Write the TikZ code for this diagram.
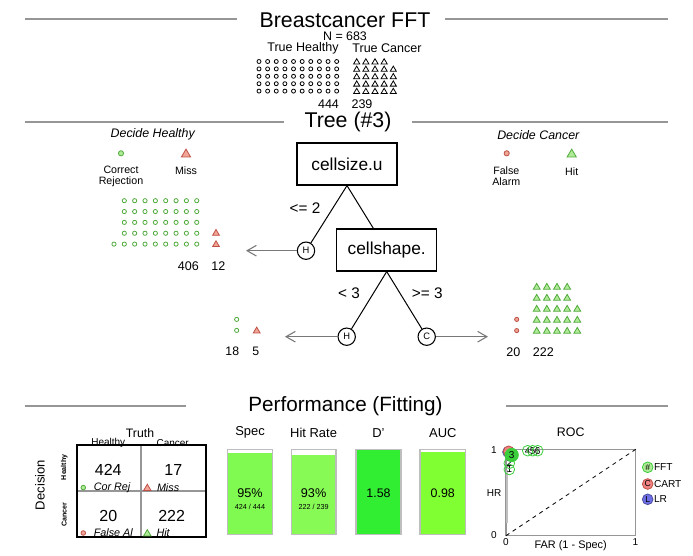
\documentclass[tikz,border=0pt]{standalone}
\usepackage{fontspec}
\setmainfont{Liberation Sans}
\usetikzlibrary{arrows.meta,shapes.geometric}
\newcommand\fsz[1]{\fontsize{#1}{#1}\selectfont}
\definecolor{rulegray}{RGB}{150,150,150}
\definecolor{gline}{RGB}{80,170,60}
\definecolor{gfill}{RGB}{175,235,150}
\definecolor{rline}{RGB}{190,80,70}
\definecolor{rfill}{RGB}{240,165,150}
\definecolor{arrgray}{RGB}{120,120,120}
\definecolor{barline}{RGB}{190,190,190}
\definecolor{specc}{RGB}{128,250,80}
\definecolor{hrc}{RGB}{135,250,85}
\definecolor{dpc}{RGB}{50,238,50}
\definecolor{aucc}{RGB}{128,255,50}
\definecolor{lrblue}{RGB}{110,110,230}
\definecolor{cartred}{RGB}{240,130,130}
\definecolor{fftgreen}{RGB}{60,205,60}
\tikzset{tripic/.pic={\path[pic actions] (-3.4,2.7) -- (3.4,2.7) -- (0,-3.1) -- cycle;}}
\begin{document}
\begin{tikzpicture}[x=0.75pt,y=-0.75pt,line width=0.75pt,
  txt/.style={inner sep=0pt},
  hline/.style={rulegray,line width=0.9pt},
  icon/.style={line width=0.6pt},
  gcirc/.style={icon,draw=gline,fill=white},
  gcircf/.style={icon,draw=gline,fill=gfill},
  rcirc/.style={icon,draw=rline,fill=rfill},
  gtri/.style={icon,draw=gline,fill=gfill},
  rtri/.style={icon,draw=rline,fill=rfill},
  treebox/.style={draw,line width=0.9pt,minimum width=75pt,minimum height=31.5pt,inner sep=0pt,font=\fsz{13}},
  leaf/.style={circle,draw,line width=0.8pt,minimum size=13pt,inner sep=0pt,font=\fsz{7}},
  leafarr/.style={arrgray,line width=0.8pt,-{Straight Barb[length=7pt,width=8pt]}},
  barbox/.style={barline,line width=0.9pt},
  rocpt/.style={circle,draw=fftgreen,line width=0.6pt,minimum size=8pt,inner sep=0pt,font=\fsz{7.5}},
]
\useasboundingbox (0,0) rectangle (693,556);
\fill[white] (0,0) rectangle (693,556);

% ---------- header ----------
\draw[hline] (25,19) -- (237,19);
\draw[hline] (445,19) -- (668,19);
\node[txt,font=\fsz{16}] (title) at (345,20) {Breastcancer FFT};
\node[txt,font=\fsz{9.3}] (nlab) at (345,36) {N = 683};
\node[txt,font=\fsz{9.4}] (truehealthy) at (303,48) {True Healthy};
\node[txt,font=\fsz{9.4}] (truecancer) at (387,48) {True Cancer};
\foreach \i in {0,...,9}
  \foreach \j in {0,...,4}
    \draw[icon,black] (259+8.63*\i,61.5+7.4*\j) circle[radius=2];
\foreach \k in {0,...,3}
  \pic[icon,draw=black,fill=white,scale=0.9] at (356.7+9.15*\k,61.5) {tripic};
\foreach \j in {1,...,4}
  \foreach \k in {0,...,4}
    \pic[icon,draw=black,fill=white,scale=0.9] at (356.7+9.15*\k,61.5+7.4*\j) {tripic};
\node[txt,font=\fsz{9.4}] (n444) at (328.5,104.5) {444};
\node[txt,font=\fsz{9.4}] (n239) at (362,104.5) {239};

% ---------- tree ----------
\draw[hline] (25,122) -- (284,122);
\draw[hline] (412,122) -- (668,122);
\node[txt,font=\fsz{16}] (treetitle) at (348,121.5) {Tree (\#3)};

\node[txt,font=\itshape\fsz{9.3}] (dh) at (152.7,134) {Decide Healthy};
\draw[gcircf] (121,153.3) circle[radius=2.6];
\pic[rtri,scale=1.35] at (186,153.3) {tripic};
\node[txt,font=\fontsize{8}{8.4}\selectfont,align=center] (corrrej) at (121,176.5) {Correct\\Rejection};
\node[txt,font=\fsz{8}] (misslab) at (186,171) {Miss};

\node[txt,font=\itshape\fsz{9.3}] (dc) at (538.3,135) {Decide Cancer};
\draw[rcirc] (506.7,153.3) circle[radius=2.6];
\pic[gtri,scale=1.35] at (571.7,153.3) {tripic};
\node[txt,font=\fontsize{8}{8.4}\selectfont,align=center] (falarm) at (506.3,176.5) {False\\Alarm};
\node[txt,font=\fsz{8}] (hitlab) at (571.7,171.5) {Hit};

% healthy leaf 1 icons
\foreach \i in {0,...,7}
  \foreach \j in {0,...,4}
    \draw[gcirc] (124.3+10.35*\i,200.7+10.85*\j) circle[radius=2.1];
\draw[gcirc] (114,244.1) circle[radius=2.1];
\pic[rtri] at (216,232.6) {tripic};
\pic[rtri] at (216,243.9) {tripic};
\node[txt,font=\fsz{9.4}] (n406) at (188.3,265.7) {406};
\node[txt,font=\fsz{9.4}] (n12) at (218.3,265.7) {12};

% tree nodes
\node[treebox] (n1) at (347,164) {cellsize.u};
\node[treebox] (n2) at (386.7,250) {cellshape.};
\node[leaf] (h1) at (306,250.7) {H};
\node[leaf] (h2) at (346.7,336.7) {H};
\node[leaf] (c2) at (426.7,336.7) {C};
\coordinate (a1) at (246,250.7);
\coordinate (a2) at (285,336.7);
\coordinate (a3) at (488,336.7);
\draw (n1.south) -- (h1);
\draw (n1.south) -- (n2);
\draw (n2.south) -- (h2);
\draw (n2.south) -- (c2);
\draw[leafarr] (h1) -- (a1);
\draw[leafarr] (h2) -- (a2);
\draw[leafarr] (c2) -- (a3);
\node[txt,font=\fsz{11.5}] (lab1) at (305,208.3) {<= 2};
\node[txt,font=\fsz{11.5}] (lab2) at (349,293.3) {< 3};
\node[txt,font=\fsz{11.5}] (lab3) at (427.3,293.3) {>= 3};

% leaf 2 icons (healthy)
\draw[gcirc] (236.7,319.4) circle[radius=2.1];
\draw[gcirc] (236.7,330.4) circle[radius=2.1];
\pic[rtri] at (256.7,330.2) {tripic};
\node[txt,font=\fsz{9.2}] (n18) at (232.3,351.7) {18};
\node[txt,font=\fsz{9.2}] (n5) at (255.7,351.7) {5};

% leaf 3 icons (cancer)
\draw[rcirc] (516.7,319.4) circle[radius=2.1];
\draw[rcirc] (516.7,330.6) circle[radius=2.1];
\foreach \j in {0,1}
  \foreach \k in {0,...,3}
    \pic[gtri] at (536.7+10.15*\k,286.5+11*\j) {tripic};
\foreach \j in {2,3,4}
  \foreach \k in {0,...,4}
    \pic[gtri] at (536.7+10.15*\k,286.5+11*\j) {tripic};
\node[txt,font=\fsz{9.4}] (n20) at (513.3,351.7) {20};
\node[txt,font=\fsz{9.4}] (n222) at (543.3,351.7) {222};

% ---------- performance ----------
\draw[hline] (25,406) -- (186,406);
\draw[hline] (506,406) -- (668,406);
\node[txt,font=\fsz{15.5}] (perf) at (345.5,406) {Performance (Fitting)};

% confusion matrix
\node[txt,font=\fsz{9.2}] (truth) at (140,432.7) {Truth};
\node[txt,font=\fsz{7.5}] (colh) at (108.3,443) {Healthy};
\node[txt,font=\fsz{7.5}] (colc) at (172.7,443) {Cancer};
\node[txt,font=\fsz{9.8},rotate=90] (decision) at (40,485) {Decision};
\node[txt,font=\bfseries\fsz{5.3},rotate=90] (rowh) at (64.3,467.3) {Healthy};
\node[txt,font=\bfseries\fsz{5.3},rotate=90] (rowc) at (64.3,515) {Cancer};
\draw[rulegray,line width=0.9pt] (141,445) -- (141,536.7);
\draw[rulegray,line width=0.9pt] (76.7,491) -- (205.7,491);
\draw[line width=1.2pt] (76.7,445) rectangle (205.7,536.7);
\node[txt,font=\fsz{12}] (c424) at (108.3,470) {424};
\node[txt,font=\fsz{12}] (c17) at (173.3,470) {17};
\node[txt,font=\fsz{12}] (c20) at (108.3,516) {20};
\node[txt,font=\fsz{12}] (c222) at (171.7,516) {222};
\draw[gcircf] (83.3,487.6) circle[radius=2.3];
\node[txt,font=\itshape\fsz{8.1},anchor=west] (correj) at (93.3,488) {Cor Rej};
\pic[rtri,scale=1.1] at (147.3,487.6) {tripic};
\node[txt,font=\itshape\fsz{8.1},anchor=west] (cmiss) at (156.5,488) {Miss};
\draw[rcirc] (83.3,533) circle[radius=2.3];
\node[txt,font=\itshape\fsz{8.1},anchor=west] (cfa) at (93.3,533) {False Al};
\pic[gtri,scale=1.1] at (147.3,533) {tripic};
\node[txt,font=\itshape\fsz{8.1},anchor=west] (chit) at (156,533) {Hit};

% bars
\node[txt,font=\fsz{9.7}] (specl) at (250,432.7) {Spec};
\node[txt,font=\fsz{9.7}] (hrl) at (313.6,432.7) {Hit Rate};
\node[txt,font=\fsz{9.7}] (dpl) at (378.5,432.7) {D'};
\node[txt,font=\fsz{9.7}] (aucl) at (442.8,432.7) {AUC};
\fill[specc] (227.3,452.7) rectangle (272.7,534.3);
\fill[hrc] (291.3,455) rectangle (336,534.3);
\fill[dpc] (356,449.3) rectangle (401,534.3);
\fill[aucc] (420,451.7) rectangle (465.7,534.3);
\draw[barbox] (227.3,449.3) rectangle (272.7,534.3);
\draw[barbox] (291.3,449.3) rectangle (336,534.3);
\draw[barbox] (356,449.3) rectangle (401,534.3);
\draw[barbox] (420,449.3) rectangle (465.7,534.3);
\node[txt,font=\fsz{9.5}] (specv) at (250,493.3) {95\%};
\node[txt,font=\fsz{5.4}] (specf) at (250,507.3) {424 / 444};
\node[txt,font=\fsz{9.5}] (hrv) at (313.6,493.3) {93\%};
\node[txt,font=\fsz{5.4}] (hrf) at (313.6,507.3) {222 / 239};
\node[txt,font=\fsz{9.3}] (dpv) at (378.5,493.3) {1.58};
\node[txt,font=\fsz{9.3}] (aucv) at (442.8,493.3) {0.98};

% ROC
\node[txt,font=\fsz{9.3}] (roct) at (570.7,432.3) {ROC};
\draw[rulegray,line width=0.8pt] (506,449.3) rectangle (635.7,535.7);
\draw[black,line width=0.6pt,dashed] (506,535.7) -- (635.7,449.3);
\draw[black!25,line width=1.6pt] (507.3,470) -- (507.3,523);
\node[txt,font=\fsz{7.5}] (y1) at (494,450) {1};
\node[txt,font=\fsz{7.5}] (y0) at (494,535) {0};
\node[txt,font=\fsz{7.5}] (yhr) at (494,493.3) {HR};
\node[txt,font=\fsz{7.5}] (x0) at (506,542) {0};
\node[txt,font=\fsz{7.5}] (x1) at (635.5,542) {1};
\node[txt,font=\fsz{8.2}] (xlab) at (570.7,546) {FAR (1 - Spec)};
\node[rocpt,fill=lrblue,draw=lrblue!70!black] (lrpt) at (508,452) {};
\node[rocpt,fill=cartred,draw=rline] (cartpt) at (508.7,451.3) {};
\node[rocpt] (p1) at (509.3,469.5) {1};
\node[rocpt] (p2) at (509.3,463.3) {2};
\node[rocpt] (p4) at (527.7,450.7) {4};
\node[rocpt] (p5) at (532.7,450.7) {5};
\node[rocpt] (p6) at (537.7,450.7) {6};
\node[rocpt,fill=fftgreen,minimum size=10pt] (p3) at (511.7,455) {3};
\node[rocpt,fill=gfill,font=\fsz{6.5}] (lfft) at (647.7,467.3) {\#};
\node[txt,font=\fsz{7.6},anchor=west] (lfftt) at (653.5,467.3) {FFT};
\node[rocpt,draw=rline,fill=cartred,font=\fsz{6.5}] (lcart) at (647.7,484) {C};
\node[txt,font=\fsz{7.6},anchor=west] (lcartt) at (653.5,484) {CART};
\node[rocpt,draw=lrblue!70!black,fill=lrblue,font=\fsz{6.5}] (llr) at (647.7,499.3) {L};
\node[txt,font=\fsz{7.6},anchor=west] (llrt) at (653.5,499.3) {LR};
\end{tikzpicture}
\end{document}
